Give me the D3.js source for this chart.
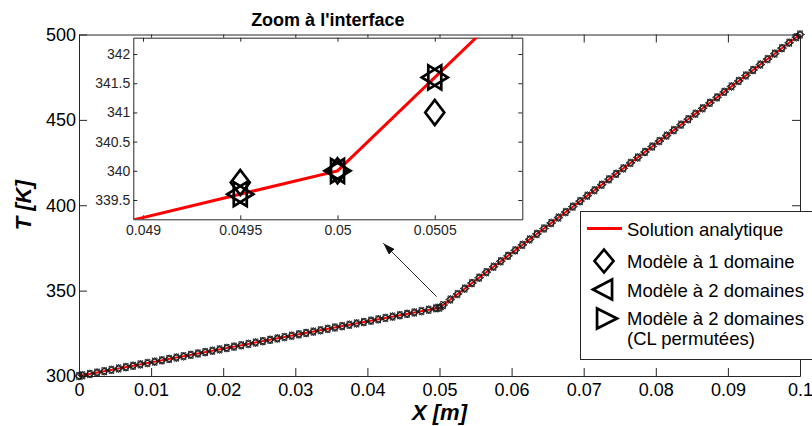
<!DOCTYPE html>
<html><head><meta charset="utf-8">
<script src="https://cdn.jsdelivr.net/npm/d3@7/dist/d3.min.js"></script>
<style>
html,body{margin:0;padding:0;background:#fff;}
svg{display:block;font-family:"Liberation Sans",Arial,sans-serif;}
</style></head>
<body><svg id="chart" width="812" height="426"></svg>
<script>
// ---------- DATA ----------
const xNodes = [0,
 0.0005,0.0015,0.0025,0.0035,0.0045,0.0055,0.0065,0.0075,0.0085,0.0095,
 0.0105,0.0115,0.0125,0.0135,0.0145,0.0155,0.0165,0.0175,0.0185,0.0195,
 0.0205,0.0215,0.0225,0.0235,0.0245,0.0255,0.0265,0.0275,0.0285,0.0295,
 0.0305,0.0315,0.0325,0.0335,0.0345,0.0355,0.0365,0.0375,0.0385,0.0395,
 0.0405,0.0415,0.0425,0.0435,0.0445,0.0455,0.0465,0.0475,0.0485,0.0495,
 0.05,
 0.0505,0.0515,0.0525,0.0535,0.0545,0.0555,0.0565,0.0575,0.0585,0.0595,
 0.0605,0.0615,0.0625,0.0635,0.0645,0.0655,0.0665,0.0675,0.0685,0.0695,
 0.0705,0.0715,0.0725,0.0735,0.0745,0.0755,0.0765,0.0775,0.0785,0.0795,
 0.0805,0.0815,0.0825,0.0835,0.0845,0.0855,0.0865,0.0875,0.0885,0.0895,
 0.0905,0.0915,0.0925,0.0935,0.0945,0.0955,0.0965,0.0975,0.0985,0.0995,
 0.1];
// Modèle à 2 domaines
const T2dom = [300,
 300.4,301.2,302.0,302.8,303.6,304.4,305.2,306.0,306.8,307.6,
 308.4,309.2,310.0,310.8,311.6,312.4,313.2,314.0,314.8,315.6,
 316.4,317.2,318.0,318.8,319.6,320.4,321.2,322.0,322.8,323.6,
 324.4,325.2,326.0,326.8,327.6,328.4,329.2,330.0,330.8,331.6,
 332.4,333.2,334.0,334.8,335.6,336.4,337.2,338.0,338.8,339.6,
 340,
 341.6,344.8,348.0,351.2,354.4,357.6,360.8,364.0,367.2,370.4,
 373.6,376.8,380.0,383.2,386.4,389.6,392.8,396.0,399.2,402.4,
 405.6,408.8,412.0,415.2,418.4,421.6,424.8,428.0,431.2,434.4,
 437.6,440.8,444.0,447.2,450.4,453.6,456.8,460.0,463.2,466.4,
 469.6,472.8,476.0,479.2,482.4,485.6,488.8,492.0,495.2,498.4,
 500];
// Modèle à 2 domaines (CL permutées)
const T2domCL = [300,
 300.4,301.2,302.0,302.8,303.6,304.4,305.2,306.0,306.8,307.6,
 308.4,309.2,310.0,310.8,311.6,312.4,313.2,314.0,314.8,315.6,
 316.4,317.2,318.0,318.8,319.6,320.4,321.2,322.0,322.8,323.6,
 324.4,325.2,326.0,326.8,327.6,328.4,329.2,330.0,330.8,331.6,
 332.4,333.2,334.0,334.8,335.6,336.4,337.2,338.0,338.8,339.6,
 340,
 341.6,344.8,348.0,351.2,354.4,357.6,360.8,364.0,367.2,370.4,
 373.6,376.8,380.0,383.2,386.4,389.6,392.8,396.0,399.2,402.4,
 405.6,408.8,412.0,415.2,418.4,421.6,424.8,428.0,431.2,434.4,
 437.6,440.8,444.0,447.2,450.4,453.6,456.8,460.0,463.2,466.4,
 469.6,472.8,476.0,479.2,482.4,485.6,488.8,492.0,495.2,498.4,
 500];
// Modèle à 1 domaine
const T1dom = [300,
 300.4,301.2,302.0,302.8,303.6,304.4,305.2,306.0,306.8,307.6,
 308.4,309.2,310.0,310.8,311.6,312.4,313.2,314.0,314.8,315.6,
 316.4,317.2,318.0,318.8,319.6,320.4,321.2,322.0,322.8,323.6,
 324.4,325.2,326.0,326.8,327.6,328.4,329.2,330.0,330.8,331.6,
 332.4,333.2,334.0,334.8,335.6,336.4,337.2,338.0,338.8,339.8,
 340,
 341.0,344.8,348.0,351.2,354.4,357.6,360.8,364.0,367.2,370.4,
 373.6,376.8,380.0,383.2,386.4,389.6,392.8,396.0,399.2,402.4,
 405.6,408.8,412.0,415.2,418.4,421.6,424.8,428.0,431.2,434.4,
 437.6,440.8,444.0,447.2,450.4,453.6,456.8,460.0,463.2,466.4,
 469.6,472.8,476.0,479.2,482.4,485.6,488.8,492.0,495.2,498.4,
 500];
// Solution analytique (piecewise linear)
const xAnalytic = [0, 0.05, 0.1];
const TAnalytic = [300, 340, 500];

const xTicks = [0,0.01,0.02,0.03,0.04,0.05,0.06,0.07,0.08,0.09,0.1];
const xTickLabels = ["0","0.01","0.02","0.03","0.04","0.05","0.06","0.07","0.08","0.09","0.1"];
const yTicks = [300,350,400,450,500];
const insetXTicks = [0.049,0.0495,0.05,0.0505];
const insetXTickLabels = ["0.049","0.0495","0.05","0.0505"];
const insetYTicks = [339.5,340,340.5,341,341.5,342];
const insetYTickLabels = ["339.5","340","340.5","341","341.5","342"];
const legendLabels = ["Solution analytique","Modèle à 1 domaine","Modèle à 2 domaines","Modèle à 2 domaines","(CL permutées)"];

// ---------- DRAW ----------
const svg = d3.select("#chart");
const axisColor = "#262626";

// triangles centred near their centroid (vertex at r, base at -r/2), diamond centred
function markerPath(type, r, h){
  if(type==="diamond") return `M0,${-h}L${r},0L0,${h}L${-r},0Z`;
  if(type==="left") return `M${-r},0L${r/2},${-h}L${r/2},${h}Z`;
  return `M${r},0L${-r/2},${-h}L${-r/2},${h}Z`;
}

// Main axes
const M = {l:79, r:800, t:34.5, b:376};
const x = d3.scaleLinear().domain([0,0.1]).range([M.l,M.r]);
const y = d3.scaleLinear().domain([300,500]).range([M.b,M.t]);

const gMain = svg.append("g");
gMain.append("rect").attr("x",M.l).attr("y",M.t).attr("width",M.r-M.l).attr("height",M.b-M.t)
  .attr("fill","#fff").attr("stroke","none");

function styleAxis(g, fs, col){
  g.select(".domain").attr("stroke",axisColor);
  g.selectAll(".tick line").attr("stroke",axisColor);
  g.selectAll(".tick text").attr("fill",col).style("font-size",fs+"px").style("font-family","'Liberation Sans',Arial,sans-serif");
}

const gxb = gMain.append("g").attr("transform",`translate(0,${M.b})`)
  .call(d3.axisBottom(x).tickValues(xTicks).tickFormat((d,i)=>xTickLabels[i]).tickSizeInner(-8).tickSizeOuter(0).tickPadding(7));
styleAxis(gxb,18,"#000");
const gxt = gMain.append("g").attr("transform",`translate(0,${M.t})`)
  .call(d3.axisTop(x).tickValues(xTicks).tickFormat("").tickSizeInner(-8).tickSizeOuter(0));
styleAxis(gxt,18,"#000");
const gyl = gMain.append("g").attr("transform",`translate(${M.l},0)`)
  .call(d3.axisLeft(y).tickValues(yTicks).tickFormat(d3.format("d")).tickSizeInner(-8).tickSizeOuter(0).tickPadding(3));
styleAxis(gyl,18,"#000");
const gyr = gMain.append("g").attr("transform",`translate(${M.r},0)`)
  .call(d3.axisRight(y).tickValues(yTicks).tickFormat("").tickSizeInner(-8).tickSizeOuter(0));
styleAxis(gyr,18,"#000");

// Analytic line main
const lineMain = d3.line().x(d=>x(d[0])).y(d=>y(d[1]));
gMain.append("path").datum(xAnalytic.map((v,i)=>[v,TAnalytic[i]]))
  .attr("d",lineMain).attr("fill","none").attr("stroke","#ff0000").attr("stroke-width",2);

function drawMarkers(g, xs, ts, sx, sy, type, r, h, sw, col){
  g.append("g").selectAll("path").data(xs.map((v,i)=>[v,ts[i]])).join("path")
    .attr("transform",d=>`translate(${sx(d[0])},${sy(d[1])})`)
    .attr("d",markerPath(type,r,h)).attr("fill","none").attr("stroke",col)
    .attr("stroke-width",sw).attr("stroke-linejoin","miter");
}
drawMarkers(gMain,xNodes,T1dom,x,y,"diamond",3.2,4.2,0.9,"#1a1a1a");
drawMarkers(gMain,xNodes,T2dom,x,y,"left",4.6,3.8,0.9,"#1a1a1a");
drawMarkers(gMain,xNodes,T2domCL,x,y,"right",4.6,3.8,0.9,"#1a1a1a");

// Axis labels
svg.append("text").attr("x",(M.l+M.r)/2).attr("y",420).attr("text-anchor","middle")
  .style("font-size","22px").style("font-weight","bold").style("font-style","italic").text("X [m]");
svg.append("text").attr("transform",`translate(31,${(M.t+M.b)/2}) rotate(-90)`).attr("text-anchor","middle")
  .style("font-size","22px").style("font-weight","bold").style("font-style","italic").text("T [K]");

// Arrow
svg.append("defs").append("marker").attr("id","arr").attr("viewBox","0 0 12 8").attr("refX",12).attr("refY",4)
  .attr("markerWidth",12).attr("markerHeight",8).attr("markerUnits","userSpaceOnUse").attr("orient","auto")
  .append("path").attr("d","M0,0L12,4L0,8Z").attr("fill","#111");
svg.append("line").attr("x1",436.7).attr("y1",296.7).attr("x2",383.3).attr("y2",243.3)
  .attr("stroke","#333").attr("stroke-width",1).attr("marker-end","url(#arr)");

// Inset
const I = {l:133.3, r:522.3, t:37.7, b:219.3};
const xi = d3.scaleLinear().domain([0.04895,0.05095]).range([I.l,I.r]);
const yi = d3.scaleLinear().domain([339.17,342.28]).range([I.b,I.t]);
const gIn = svg.append("g");
gIn.append("rect").attr("x",I.l).attr("y",I.t).attr("width",I.r-I.l).attr("height",I.b-I.t).attr("fill","#fff");
svg.select("defs").append("clipPath").attr("id","clipIn").append("rect")
  .attr("x",I.l).attr("y",I.t).attr("width",I.r-I.l).attr("height",I.b-I.t);

const gib = gIn.append("g").attr("transform",`translate(0,${I.b})`)
  .call(d3.axisBottom(xi).tickValues(insetXTicks).tickFormat((d,i)=>insetXTickLabels[i]).tickSizeInner(-4).tickSizeOuter(0).tickPadding(6));
styleAxis(gib,14,"#262626");
const git = gIn.append("g").attr("transform",`translate(0,${I.t})`)
  .call(d3.axisTop(xi).tickValues(insetXTicks).tickFormat("").tickSizeInner(-4).tickSizeOuter(0));
styleAxis(git,14,"#262626");
const gil = gIn.append("g").attr("transform",`translate(${I.l},0)`)
  .call(d3.axisLeft(yi).tickValues(insetYTicks).tickFormat((d,i)=>insetYTickLabels[i]).tickSizeInner(-4).tickSizeOuter(0).tickPadding(3));
styleAxis(gil,14,"#262626");
const gir = gIn.append("g").attr("transform",`translate(${I.r},0)`)
  .call(d3.axisRight(yi).tickValues(insetYTicks).tickFormat("").tickSizeInner(-4).tickSizeOuter(0));
styleAxis(gir,14,"#262626");

const lineIn = d3.line().x(d=>xi(d[0])).y(d=>yi(d[1]));
gIn.append("path").datum(xAnalytic.map((v,i)=>[v,TAnalytic[i]])).attr("clip-path","url(#clipIn)")
  .attr("d",lineIn).attr("fill","none").attr("stroke","#ff0000").attr("stroke-width",3);

const [xa,xb] = xi.domain(), [ya,yb] = yi.domain();
function inRange(xs,ts){
  const ox=[],ot=[];
  xs.forEach((v,i)=>{ if(v>=xa&&v<=xb&&ts[i]>=ya&&ts[i]<=yb){ox.push(v);ot.push(ts[i]);} });
  return [ox,ot];
}
let r;
r=inRange(xNodes,T1dom);  drawMarkers(gIn,r[0],r[1],xi,yi,"diamond",9.5,12.5,2.7,"#000");
r=inRange(xNodes,T2dom);  drawMarkers(gIn,r[0],r[1],xi,yi,"left",13,12,2.7,"#000");
r=inRange(xNodes,T2domCL);drawMarkers(gIn,r[0],r[1],xi,yi,"right",13,12,2.7,"#000");

svg.append("text").attr("x",(I.l+I.r)/2).attr("y",26).attr("text-anchor","middle")
  .style("font-size","18px").style("font-weight","bold").text("Zoom à l'interface");

// Legend
const gL = svg.append("g");
gL.append("rect").attr("x",580.5).attr("y",211.5).attr("width",240).attr("height",148)
  .attr("fill","#fff").attr("stroke",axisColor).attr("stroke-width",1);
gL.append("line").attr("x1",587).attr("x2",622).attr("y1",228.5).attr("y2",228.5)
  .attr("stroke","#ff0000").attr("stroke-width",3);
gL.append("path").attr("transform","translate(604,261)").attr("d",markerPath("diamond",9.5,11.5))
  .attr("fill","none").attr("stroke","#000").attr("stroke-width",2.7);
gL.append("path").attr("transform","translate(605.7,289.5)").attr("d",markerPath("left",12.7,10))
  .attr("fill","none").attr("stroke","#000").attr("stroke-width",2.7);
gL.append("path").attr("transform","translate(603.7,318.5)").attr("d",markerPath("right",13.3,10))
  .attr("fill","none").attr("stroke","#000").attr("stroke-width",2.7);
const legY = [235.5,268,297,324.5,344.5];
legendLabels.forEach((t,i)=>{
  gL.append("text").attr("x",627).attr("y",legY[i]).style("font-size","18.5px").attr("fill","#000").text(t);
});
</script></body></html>
